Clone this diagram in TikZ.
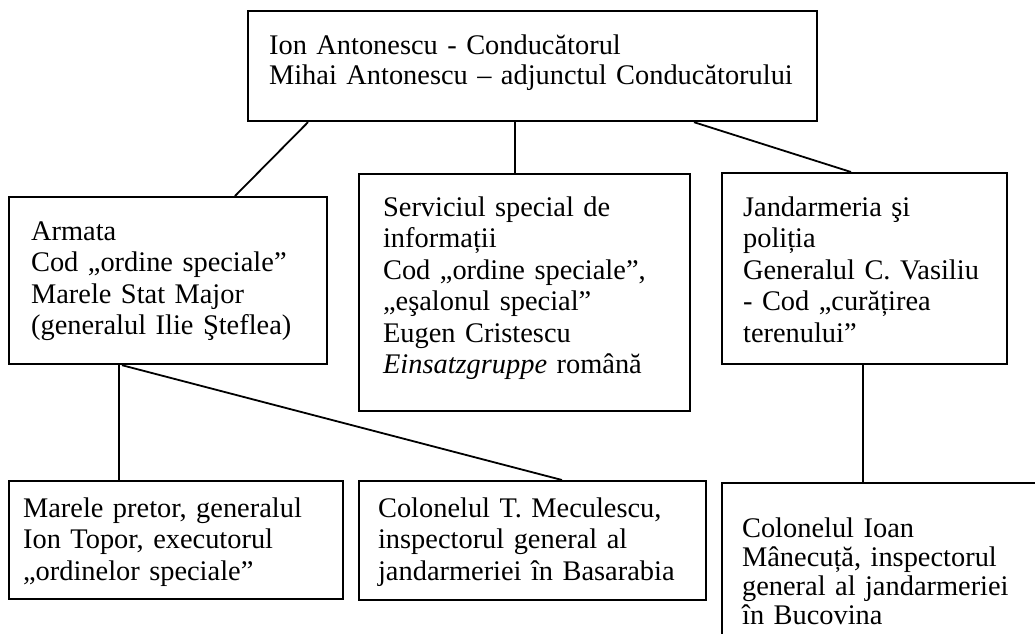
\documentclass[tikz,border=0pt]{standalone}
\usepackage{fontspec}
\setmainfont{Liberation Serif}
\usepackage{tikz}

\begin{document}
\begin{tikzpicture}[x=0.5pt, y=-0.5pt,
    unitbox/.style={draw, line width=1.1pt, anchor=north west, inner sep=0pt,
        align=left, font=\fontsize{14.2}{#1}\selectfont},
    unitbox/.default=15.75pt,
    leftpad/.style={execute at begin node={\leftskip=#1\relax}},
    link/.style={line width=0.9pt}]
    \useasboundingbox (0,0) rectangle (1035,633);
    \clip (0,0) rectangle (1035,633);

    % Top level
    \node[unitbox=15pt, leftpad=10.5pt, text width=284.5pt, text height=21.5pt, text depth=33.5pt]
        (conducator) at (247,10)
        {Ion Antonescu - Conducătorul\\Mihai Antonescu – adjunctul Conducătorului};

    % Middle level
    \node[unitbox, leftpad=11pt, text width=159pt, text height=21.5pt, text depth=62pt]
        (armata) at (8,196)
        {Armata\\Cod „ordine speciale”\\Marele Stat Major\\(generalul Ilie Şteflea)};
    \node[unitbox, leftpad=12pt, text width=165.5pt, text height=21pt, text depth=97.5pt]
        (ssi) at (358,173)
        {Serviciul special de\\informații\\Cod „ordine speciale”,\\„eşalonul special”\\Eugen Cristescu\\\textit{Einsatzgruppe} română};
    \node[unitbox, leftpad=10.5pt, text width=142.5pt, text height=21.5pt, text depth=74pt]
        (jandarmeria) at (721,172)
        {Jandarmeria şi\\poliția\\Generalul C. Vasiliu\\- Cod „curățirea\\terenului”};

    % Bottom level
    \node[unitbox, leftpad=7pt, text width=167pt, text height=18pt, text depth=41pt]
        (pretor) at (8,480)
        {Marele pretor, generalul\\Ion Topor, executorul\\„ordinelor speciale”};
    \node[unitbox, leftpad=9.5pt, text width=173.5pt, text height=18pt, text depth=41.5pt]
        (meculescu) at (358,480)
        {Colonelul T. Meculescu,\\inspectorul general al\\jandarmeriei în Basarabia};
    \node[unitbox=14.5pt, leftpad=10pt, text width=162pt, text height=27pt, text depth=54.5pt]
        (manecuta) at (721,482)
        {Colonelul Ioan\\Mânecuță, inspectorul\\general al jandarmeriei\\în Bucovina};

    % Links
    \foreach \a/\da/\b/\db in {conducator/30.5/armata/113.5, conducator/134/ssi/78.5,
        conducator/223.5/jandarmeria/65, armata/55.5/pretor/55.5,
        armata/57/meculescu/102, jandarmeria/71/manecuta/71} {
        \draw[link] ([xshift=\da pt]\a.south west) -- ([xshift=\db pt]\b.north west);
    }
\end{tikzpicture}
\end{document}
